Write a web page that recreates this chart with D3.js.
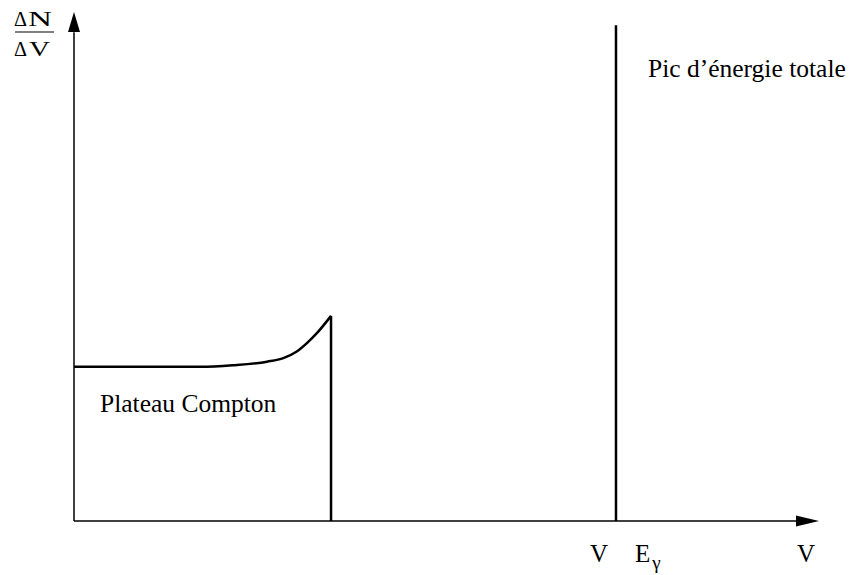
<!DOCTYPE html>
<html><head><meta charset="utf-8">
<script src="https://cdn.jsdelivr.net/npm/d3@7"></script>
<style>body{margin:0;background:#fff}svg{display:block}</style>
</head><body><svg id="c" width="852" height="575"></svg>
<script>
// Data (arbitrary units: x = energy/voltage 0..100, y = counts 0..100)
const plateauX = [0, 10.2, 16.9, 21.3, 25.9, 28.1, 29.9, 31.3, 32.6, 34.5];
const plateauY = [30.3, 30.3, 30.3, 30.6, 31.3, 32.0, 33.3, 35.0, 36.9, 40.3];
const comptonEdgeX = [34.5];
const peakX = [72.75];
const peakY = [97.4];
const labels = ["Plateau Compton", "Pic d’énergie totale"];

const FONT = "'Liberation Serif', 'Times New Roman', Times, serif";
const svg = d3.select("#c");
const x = d3.scaleLinear().domain([0, 100]).range([74, 819]);
const y = d3.scaleLinear().domain([0, 100]).range([521, 12]);

// axes
svg.append("line").attr("x1", x(0)).attr("x2", x(97)).attr("y1", y(0)).attr("y2", y(0))
  .attr("stroke", "#000").attr("stroke-width", 1.5);
svg.append("line").attr("x1", x(0)).attr("x2", x(0)).attr("y1", y(0)).attr("y2", y(96))
  .attr("stroke", "#000").attr("stroke-width", 1.5);
// arrowheads
svg.append("path").attr("d", `M${x(100)},${y(0)} L${x(100)-23},${y(0)-5.5} L${x(100)-23},${y(0)+5.5} Z`).attr("fill", "#000");
svg.append("path").attr("d", `M${x(0)},${y(100)} L${x(0)-6},${y(100)+20} L${x(0)+6},${y(100)+20} Z`).attr("fill", "#000");

// plateau curve
const pts = plateauX.map((v, i) => [v, plateauY[i]]);
svg.append("path").datum(pts)
  .attr("d", d3.line().x(d => x(d[0])).y(d => y(d[1])).curve(d3.curveMonotoneX))
  .attr("fill", "none").attr("stroke", "#000").attr("stroke-width", 2.5).attr("stroke-linejoin", "round");
// compton edge
svg.selectAll(".edge").data(comptonEdgeX).enter().append("line")
  .attr("x1", d => x(d)).attr("x2", d => x(d))
  .attr("y1", y(0)).attr("y2", y(plateauY[plateauY.length-1]))
  .attr("stroke", "#000").attr("stroke-width", 2.5);
// peak
svg.selectAll(".peak").data(peakX).enter().append("line")
  .attr("x1", d => x(d)).attr("x2", d => x(d))
  .attr("y1", y(0)).attr("y2", (d, i) => y(peakY[i]))
  .attr("stroke", "#000").attr("stroke-width", 2.5);

function txt(xp, yp, size, s, anchor) {
  return svg.append("text").attr("x", xp).attr("y", yp).attr("font-size", size)
    .attr("font-family", FONT).attr("fill", "#000").attr("text-anchor", anchor || "start").text(s);
}
// labels
txt(100, 412, 25.5, labels[0]);
txt(648, 77, 25.5, labels[1]);

// y label fraction
txt(14, 25.5, 21.5, "Δ").attr("textLength", 13).attr("lengthAdjust", "spacingAndGlyphs");
txt(28, 25.5, 21.5, "N").attr("textLength", 24).attr("lengthAdjust", "spacingAndGlyphs");
svg.append("line").attr("x1", 15).attr("x2", 54).attr("y1", 32).attr("y2", 32).attr("stroke", "#000").attr("stroke-width", 1.2);
txt(14, 55.5, 21.5, "Δ").attr("textLength", 13).attr("lengthAdjust", "spacingAndGlyphs");
txt(29, 55.5, 21.5, "V").attr("textLength", 21).attr("lengthAdjust", "spacingAndGlyphs");

// x labels
txt(599, 562, 25, "V", "middle");
const e = svg.append("text").attr("x", 635).attr("y", 562).attr("font-size", 25).attr("font-family", FONT);
e.append("tspan").text("E");
e.append("tspan").attr("dx", 2).attr("dy", 7).attr("font-size", 19).text("γ");
txt(806, 562, 25, "V", "middle");
</script></body></html>
